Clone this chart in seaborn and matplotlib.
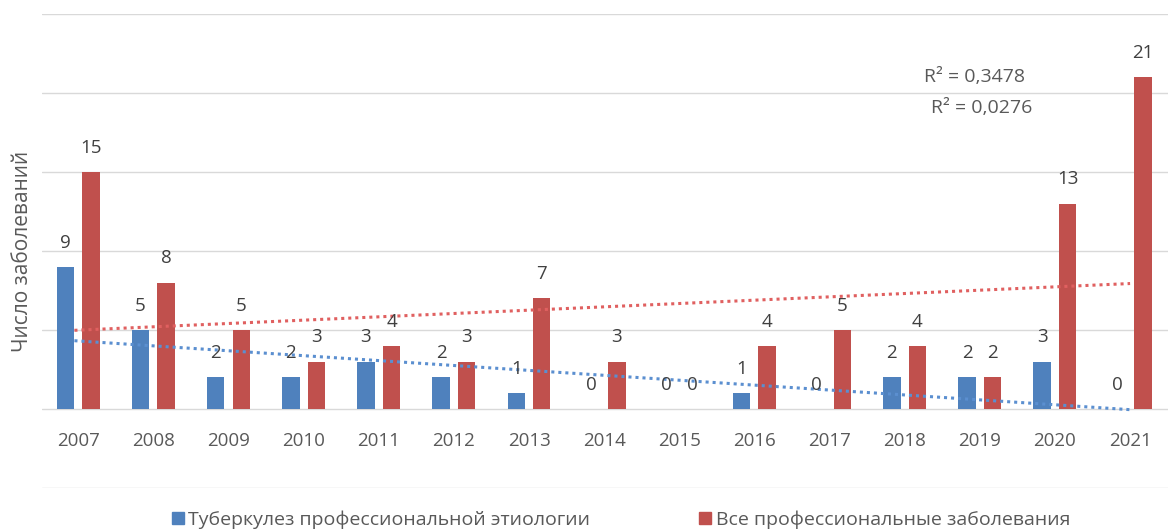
import numpy as np
import pandas as pd
import matplotlib
matplotlib.use("Agg")
import matplotlib.pyplot as plt
import seaborn as sns
from matplotlib.lines import Line2D

years = [str(y) for y in range(2007, 2022)]
tb_values = [9, 5, 2, 2, 3, 2, 1, 0, 0, 1, 0, 2, 2, 3, 0]
all_values = [15, 8, 5, 3, 4, 3, 7, 3, 0, 4, 5, 4, 2, 13, 21]
series_names = ["Туберкулез профессиональной этиологии", "Все профессиональные заболевания"]
y_label = "Число заболеваний"

blue = "#4F81BD"
red = "#C0504D"
gray = "#595959"

sns.set_theme(style="white")
plt.rcParams["font.family"] = ["Open Sans", "DejaVu Sans"]

df = pd.DataFrame({
    "year": years * 2,
    "value": tb_values + all_values,
    "series": [series_names[0]] * len(years) + [series_names[1]] * len(years),
})

fig = plt.figure(figsize=(11.7, 5.3), dpi=100)
ax = fig.add_axes([0.036, 0.0792, 0.962, 0.8944])

sns.barplot(data=df, x="year", y="value", hue="series", palette=[blue, red],
            width=0.68, gap=0.32, dodge=True, ax=ax, legend=False,
            edgecolor="none", saturation=1)

ax.set_ylim(-5, 25)
ax.set_xlim(-0.48, len(years) - 0.5)
ax.set_yticks(np.arange(-5, 26, 5))
ax.set_yticklabels([])
ax.tick_params(axis="both", length=0)
ax.set_xticks([])
ax.grid(axis="y", color="#D9D9D9", linewidth=1)
ax.set_axisbelow(True)
for s in ax.spines.values():
    s.set_visible(False)
ax.set_xlabel("")
ax.set_ylabel(y_label, fontsize=15, color=gray)
ax.yaxis.set_label_coords(-0.008, 0.50)

for i, yr in enumerate(years):
    ax.text(i, -2.05, yr, ha="center", va="center", fontsize=13.5, color=gray)

# data labels
offsets = [-0.17, 0.17]
for k, vals in enumerate([tb_values, all_values]):
    for i, v in enumerate(vals):
        ax.annotate(str(v), (i + offsets[k], v), xytext=(0, 17.5), textcoords="offset points",
                    ha="center", va="center", fontsize=13.5, color="#404040")

# linear trendlines
x = np.arange(len(years))
trend_colors = ["#5B8FD0", "#E06060"]
r2_vals = []
for vals, c in zip([tb_values, all_values], trend_colors):
    y = np.array(vals, dtype=float)
    slope, icpt = np.polyfit(x, y, 1)
    fit = slope * x + icpt
    r2 = 1 - np.sum((y - fit) ** 2) / np.sum((y - y.mean()) ** 2)
    r2_vals.append(r2)
    ax.plot([x[0] - 0.05, x[-1]], [icpt + slope * (x[0] - 0.05), fit[-1]], color=c,
            linestyle=(0, (1, 1.3)), linewidth=2.2, dash_capstyle="butt")

ax.text(11.93, 21.0, "R² = " + f"{r2_vals[0]:.4f}".replace(".", ","), ha="center",
        va="center", fontsize=14, color=gray)
ax.text(12.03, 19.05, "R² = " + f"{r2_vals[1]:.4f}".replace(".", ","), ha="center",
        va="center", fontsize=14, color=gray)

handles = [Line2D([], [], marker="s", linestyle="none", markersize=8, color=c) for c in (blue, red)]
fig.legend(handles, series_names, loc="center", bbox_to_anchor=(0.53, 0.02), ncol=2,
           frameon=False, fontsize=14, labelcolor=gray, handletextpad=0.15,
           columnspacing=5.5, handlelength=0.8)

fig.savefig("out.png", dpi=100)
